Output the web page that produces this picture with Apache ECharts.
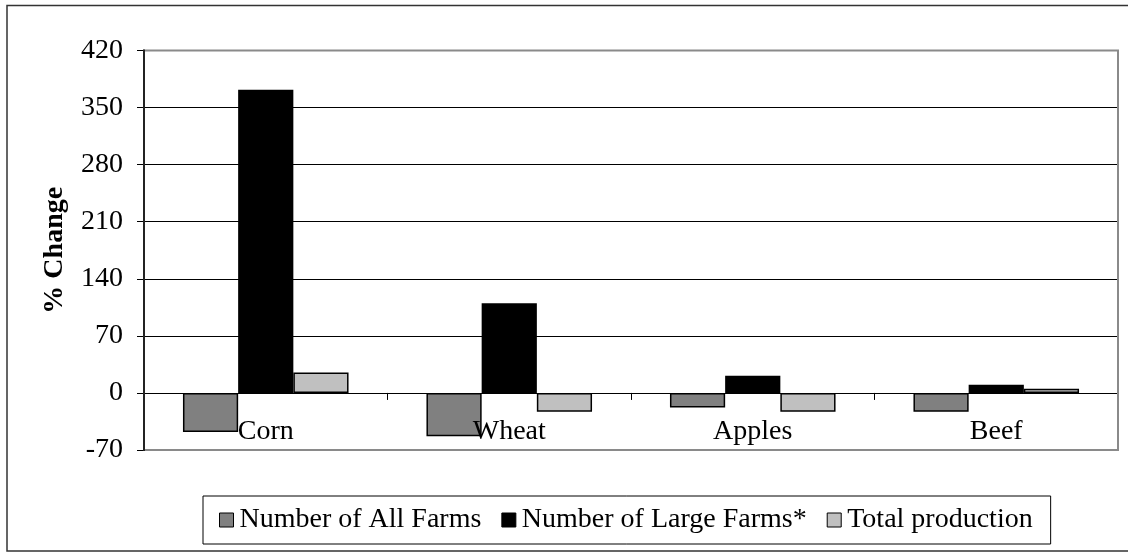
<!DOCTYPE html>
<html>
<head>
<meta charset="utf-8">
<script src="https://cdn.jsdelivr.net/npm/echarts@6/dist/echarts.min.js"></script>
<style>
html,body{margin:0;padding:0;background:#fff;}
#chart{width:1128px;height:552px;}
</style>
</head>
<body>
<div id="chart"></div>
<script>
const categories = ['Corn', 'Wheat', 'Apples', 'Beef'];
const allFarms = [-48, -53, -18, -23];
const largeFarms = [372, 110, 21, 10];
const totalProduction = [25, -23, -23, 5];
const seriesNames = ['Number of All Farms', 'Number of Large Farms*', 'Total production'];
const yMin = -70, yMax = 420, yStep = 70;

const FONT = '"Liberation Serif", "Times New Roman", serif';
const chart = echarts.init(document.getElementById('chart'), null, {renderer: 'canvas'});

const G = {left: 144, right: 10, top: 50.5, bottom: 102};

function bar(name, data, color) {
  return {
    name, type: 'bar', data,
    barGap: '0%', barCategoryGap: '32%',
    itemStyle: {color, borderColor: '#000', borderWidth: 1.5},
    emphasis: {disabled: true}
  };
}

chart.setOption({
  animation: false,
  backgroundColor: '#fff',
  textStyle: {fontFamily: FONT, color: '#000'},
  grid: {left: G.left, right: G.right, top: G.top, bottom: G.bottom},
  legend: {
    data: seriesNames,
    left: 203, top: 496,
    padding: [10, 18, 10, 16],
    itemGap: 20,
    itemWidth: 14, itemHeight: 14,
    icon: 'rect',
    borderColor: '#000', borderWidth: 1,
    textStyle: {fontFamily: FONT, fontSize: 28, color: '#000', padding: [0, 0, 0, 1]},
    itemStyle: {borderColor: '#000', borderWidth: 1}
  },
  xAxis: {
    type: 'category',
    data: categories,
    z: 10,
    axisLine: {onZero: true, lineStyle: {color: '#000', width: 1}},
    axisTick: {show: true, length: 7, lineStyle: {color: '#000'}},
    axisLabel: {fontFamily: FONT, fontSize: 28, color: '#000', margin: -32},
    splitLine: {show: false}
  },
  yAxis: {
    type: 'value',
    min: yMin, max: yMax, interval: yStep,
    name: '% Change',
    nameLocation: 'middle',
    nameGap: 75,
    nameMoveOverlap: false,
    nameTextStyle: {fontFamily: FONT, fontSize: 28, fontWeight: 'bold', color: '#000'},
    axisLine: {show: true, onZero: false, lineStyle: {color: '#000', width: 1.5}},
    axisTick: {show: true, length: 7, lineStyle: {color: '#000'}},
    axisLabel: {fontFamily: FONT, fontSize: 28, color: '#000', margin: 21},
    splitLine: {show: true, lineStyle: {color: '#000', width: 1}}
  },
  series: [
    bar(seriesNames[0], allFarms, '#808080'),
    bar(seriesNames[1], largeFarms, '#000000'),
    bar(seriesNames[2], totalProduction, '#c0c0c0')
  ],
  graphic: [
    {type: 'rect', z: 100, silent: true,
     shape: {x: G.left, y: G.top, width: 1128 - G.left - G.right, height: 552 - G.top - G.bottom},
     style: {fill: null, stroke: '#8a8a8a', lineWidth: 2}},
    {type: 'line', z: 101, silent: true,
     shape: {x1: G.left, y1: G.top - 1, x2: G.left, y2: 552 - G.bottom + 1},
     style: {stroke: '#000', lineWidth: 1.5}},
    {type: 'rect', z: 100, silent: true,
     shape: {x: 7, y: 5.5, width: 1130, height: 545.5},
     style: {fill: null, stroke: '#333', lineWidth: 1.5}}
  ]
});
</script>
</body>
</html>
